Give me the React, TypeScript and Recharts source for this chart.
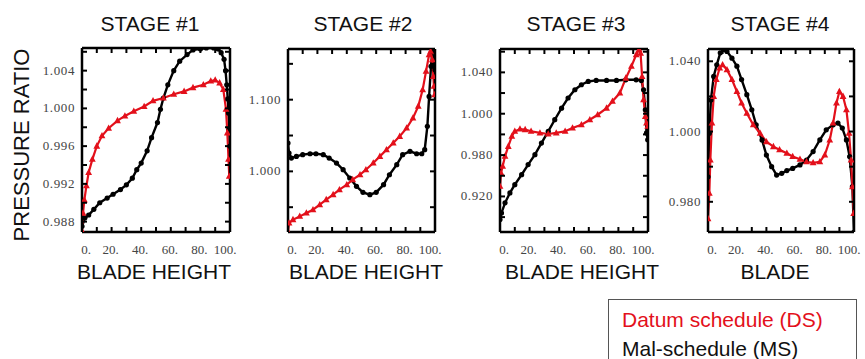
import { LineChart, Line, XAxis, YAxis } from 'recharts';

const RED = '#e3101b';
const SANS = '"Liberation Sans", Arial, sans-serif';
const SERIF = '"Liberation Serif", "Times New Roman", serif';

// blade height (%) vs pressure ratio
const stage1Ms = [[0,0.9875],[2,0.9884],[4.5,0.9887],[8,0.9893],[12,0.99],[17,0.9905],[21,0.9909],[26,0.9914],[30,0.9919],[34,0.9926],[37,0.9935],[40,0.9942],[44,0.9955],[47,0.9969],[51,0.9985],[53,0.9999],[55,1.0011],[58,1.0025],[62,1.004],[66,1.005],[71,1.0057],[75,1.0062],[80,1.0063],[84,1.0064],[89,1.0064],[92,1.0063],[94,1.0059],[96,1.0052],[97,1.004],[97.8,1.0025],[98.5,1.001],[99,0.9995],[99.5,0.9978],[100,0.996]];
const stage1Ds = [[0,0.987],[0.7,0.9889],[1.6,0.9903],[3,0.9918],[4.5,0.9932],[7,0.9946],[10,0.996],[13.5,0.9971],[18,0.9979],[24,0.9987],[29,0.9992],[35,0.9997],[42,1.0002],[48,1.0008],[55,1.0011],[62,1.0015],[69,1.0018],[75,1.0022],[82,1.0025],[87,1.0029],[90,1.003],[93,1.0027],[95.5,1.002],[97.3,0.9999],[98.2,0.9974],[99,0.9946],[99.5,0.9928]];
const stage2Ms = [[0,1.0395],[0.7,1.0256],[2.3,1.0186],[5.7,1.0209],[10,1.0233],[15,1.0246],[19,1.0246],[24,1.0233],[28,1.0186],[33,1.0116],[37.5,1.0023],[42,0.9907],[46.6,0.9791],[51,0.9707],[55.7,0.9675],[60,0.9707],[65,0.9814],[69,0.9953],[74,1.0093],[78,1.0233],[83,1.0279],[87.5,1.0246],[91,1.0246],[93,1.0302],[94.8,1.0628],[96,1.1046],[97.3,1.1465],[98.2,1.1674],[99.3,1.1465],[100,1.1418]];
const stage2Ds = [[0,0.9154],[0.7,0.9279],[3.4,0.9326],[8,0.9372],[12.5,0.9419],[17,0.9465],[21.6,0.9535],[26,0.9605],[30.7,0.9675],[35,0.9744],[40,0.9814],[44,0.9884],[49,0.9953],[53,1.0023],[58,1.0116],[62.5,1.0209],[67,1.0302],[71.6,1.0395],[76,1.0488],[80.7,1.0605],[85,1.0744],[88.6,1.0907],[91.6,1.1139],[93.9,1.1395],[96,1.1628],[97,1.1674],[98.2,1.1558],[98.9,1.1325],[99.3,1.1186],[99.8,1.107]];
const stage3Ms = [[0,0.9488],[1,0.952],[3.4,0.9569],[6.7,0.9617],[10,0.9657],[14.6,0.9705],[19,0.9754],[23.6,0.9802],[28,0.9858],[32.6,0.9915],[37,0.9971],[41.6,1.0027],[46,1.0076],[50.6,1.0116],[55,1.014],[59.6,1.0156],[65,1.0161],[72,1.0161],[78.7,1.0161],[85,1.0164],[92,1.0164],[95.5,1.0161],[97,1.0116],[98.2,1.0019],[99,0.9907],[99.8,0.9874]];
const stage3Ds = [[0,0.9649],[0.7,0.9713],[1.8,0.9746],[3.4,0.9794],[5.6,0.9842],[8,0.9891],[10,0.9915],[13.5,0.9926],[17,0.9923],[21,0.9915],[27,0.9907],[32.6,0.9902],[38,0.9907],[44,0.9915],[49,0.9931],[55,0.9947],[60.7,0.9971],[66,0.9995],[72,1.0027],[76,1.006],[81,1.01],[85,1.0172],[88.8,1.0229],[92,1.0285],[94,1.031],[95,1.0293],[96,1.018],[97,1.0068],[98.2,0.9987],[99,0.9955],[99.8,0.9939]];
const stage4Ms = [[0,0.9871],[0.9,0.9995],[2,1.009],[3.9,1.0157],[6,1.019],[8.4,1.0224],[10.7,1.0233],[13,1.0228],[16.4,1.0209],[19.8,1.0186],[23,1.0148],[26.6,1.0105],[30,1.0062],[33,1.0019],[37,0.9976],[40,0.9933],[43.6,0.99],[47,0.9876],[50.5,0.9881],[54,0.9889],[58,0.9895],[63,0.9905],[67.5,0.9919],[72,0.9943],[76.6,0.9976],[81,1.0005],[85.7,1.0019],[89,1.0024],[92,1.001],[94.8,0.9976],[97,0.9929],[98.9,0.9843],[100,0.9714]];
const stage4Ds = [[0,0.9752],[0.9,0.9824],[1.6,0.9919],[2.7,1.0024],[3.9,1.01],[5.7,1.0148],[8,1.0181],[10,1.019],[13,1.0176],[16.4,1.0148],[19.8,1.0114],[23,1.0081],[26.6,1.0052],[31,1.0019],[35.7,0.9995],[40,0.9971],[44.8,0.9957],[49,0.9948],[54,0.9938],[58,0.9929],[63,0.9921],[67.5,0.9914],[72,0.9911],[76.6,0.9914],[80,0.9933],[83.4,0.9976],[85.7,1.0024],[88,1.0081],[90,1.0114],[92.5,1.01],[94.8,1.0062],[96.6,0.9995],[98,0.9919],[98.9,0.9843],[99.8,0.9767]];

const xTicks = [0, 10, 20, 30, 40, 50, 60, 70, 80, 90, 100];
const xTickLabels: Record<number, string> = { 0: '0.', 20: '20.', 40: '40.', 60: '60.', 80: '80.', 100: '100.' };

const stage1Ticks = [0.988, 0.99, 0.992, 0.994, 0.996, 0.998, 1.0, 1.002, 1.004, 1.006];
const stage1Labels: Record<string, string> = { '0.988': '0.988', '0.992': '0.992', '0.996': '0.996', '1.000': '1.000', '1.004': '1.004' };
const stage2Ticks = [0.95, 1.0, 1.05, 1.1, 1.15];
const stage2Labels: Record<string, string> = { '1.000': '1.000', '1.100': '1.100' };
const stage3Ticks = [0.95, 0.96, 0.97, 0.98, 0.99, 1.0, 1.01, 1.02, 1.03];
const stage3Labels: Record<string, string> = { '0.960': '0.920', '0.980': '0.980', '1.000': '1.000', '1.020': '1.040' };
const stage4Ticks = [0.98, 0.99, 1.0, 1.01, 1.02];
const stage4Labels: Record<string, string> = { '0.980': '0.980', '1.000': '1.000', '1.020': '1.040' };

type Panel = {
  title: string; xTitle: string; left: number; right: number; top: number; bottom: number;
  domain: [number, number]; ticks: number[]; labels: Record<string, string>;
  ms: number[][]; ds: number[][]; titleX: number; xTitleX: number;
};

const panels: Panel[] = [
  { title: 'STAGE #1', xTitle: 'BLADE HEIGHT', left: 82, right: 230, top: 48, bottom: 232, domain: [0.9869, 1.0064], ticks: stage1Ticks, labels: stage1Labels, ms: stage1Ms, ds: stage1Ds, titleX: 150, xTitleX: 154 },
  { title: 'STAGE #2', xTitle: 'BLADE HEIGHT', left: 288, right: 435, top: 49, bottom: 232, domain: [0.9154, 1.1707], ticks: stage2Ticks, labels: stage2Labels, ms: stage2Ms, ds: stage2Ds, titleX: 363, xTitleX: 366 },
  { title: 'STAGE #3', xTitle: 'BLADE HEIGHT', left: 500, right: 648, top: 49, bottom: 232, domain: [0.9428, 1.0313], ticks: stage3Ticks, labels: stage3Labels, ms: stage3Ms, ds: stage3Ds, titleX: 576, xTitleX: 582 },
  { title: 'STAGE #4', xTitle: 'BLADE', left: 708, right: 854, top: 49, bottom: 232, domain: [0.9714, 1.0235], ticks: stage4Ticks, labels: stage4Labels, ms: stage4Ms, ds: stage4Ds, titleX: 780, xTitleX: 775 },
];

const pts = (a: number[][]) => a.map(([x, y]) => ({ x, y }));

const PAD_L = 50;
const TICK = 5;
const tickStroke = { stroke: '#000', strokeWidth: 2 };

// inward tick marks are drawn by the tick renderers themselves
const bottomTick = (p: Panel) => (props: any) => {
  const { x, payload } = props;
  const t = xTickLabels[payload.value];
  const dx = payload.value === 0 ? 4 : payload.value === 100 ? -5 : -1;
  return (
    <g>
      <line x1={x} x2={x} y1={p.bottom} y2={p.bottom - TICK} {...tickStroke} />
      {t && <text x={x + dx} y={p.bottom + 22} textAnchor="middle" fontFamily={SERIF} fontSize={13} fill="#444">{t}</text>}
    </g>
  );
};

const topTick = (p: Panel) => (props: any) => (
  <line x1={props.x} x2={props.x} y1={p.top} y2={p.top + TICK} {...tickStroke} />
);

const leftTick = (p: Panel) => (props: any) => {
  const { y, payload } = props;
  const t = p.labels[Number(payload.value).toFixed(3)];
  return (
    <g>
      <line x1={PAD_L} x2={PAD_L + TICK} y1={y} y2={y} {...tickStroke} />
      {t && <text x={PAD_L - 7} y={y + 4} textAnchor="end" fontFamily={SERIF} fontSize={13} letterSpacing={0.6} fill="#444">{t}</text>}
    </g>
  );
};

const rightTick = (p: Panel) => (props: any) => {
  const xr = PAD_L + p.right - p.left;
  return <line x1={xr} x2={xr - TICK} y1={props.y} y2={props.y} {...tickStroke} />;
};

const renderTri = (p: any) => {
  const { cx, cy, index } = p;
  if (cx == null || cy == null) return <g key={`t${index}`} />;
  return <path key={`t${index}`} d={`M${cx},${cy - 3.8}L${cx + 3.4},${cy + 2.5}L${cx - 3.4},${cy + 2.5}Z`} fill={RED} />;
};

const axisLine = { stroke: '#000', strokeWidth: 2.5 };

function StagePanel({ p }: { p: Panel }) {
  const W = p.right - p.left + 60;
  const H = 290;
  return (
    <div style={{ position: 'absolute', left: p.left - PAD_L, top: 0 }}>
      <LineChart width={W} height={H} margin={{ top: p.top - 1, bottom: H - p.bottom - 1, left: PAD_L - 1, right: 9 }}>
        <XAxis xAxisId="b" dataKey="x" type="number" domain={[0, 100]} ticks={xTicks} interval={0} height={1}
          tickLine={false} axisLine={axisLine} tick={bottomTick(p)} allowDataOverflow />
        <XAxis xAxisId="t" orientation="top" dataKey="x" type="number" domain={[0, 100]} ticks={xTicks} interval={0} height={1}
          tickLine={false} axisLine={axisLine} tick={topTick(p)} allowDataOverflow />
        <YAxis yAxisId="l" type="number" domain={p.domain} ticks={p.ticks} interval={0} width={1}
          tickLine={false} axisLine={axisLine} tick={leftTick(p)} allowDataOverflow />
        <YAxis yAxisId="r" orientation="right" type="number" domain={p.domain} ticks={p.ticks} interval={0} width={1}
          tickLine={false} axisLine={axisLine} tick={rightTick(p)} allowDataOverflow />
        <Line xAxisId="b" yAxisId="l" data={pts(p.ms)} dataKey="y" stroke="#000" strokeWidth={2.4}
          dot={{ r: 2.6, fill: '#000', stroke: '#000', strokeWidth: 0 }} isAnimationActive={false} />
        <Line xAxisId="b" yAxisId="l" data={pts(p.ds)} dataKey="y" stroke={RED} strokeWidth={2.2}
          dot={renderTri} isAnimationActive={false} />
      </LineChart>
    </div>
  );
}

function Label({ text, cx, cy, size = 20, color = '#111' }: { text: string; cx: number; cy: number; size?: number; color?: string }) {
  return (
    <div style={{ position: 'absolute', left: cx - 120, top: cy - size * 0.6, width: 240, textAlign: 'center',
      fontFamily: SANS, fontSize: size, lineHeight: `${size * 1.2}px`, color, whiteSpace: 'nowrap' }}>{text}</div>
  );
}

export default function App() {
  return (
    <div style={{ position: 'absolute', left: 0, top: 0, width: 865, height: 359, background: '#fff', overflow: 'hidden' }}>
      {panels.map((p) => <StagePanel key={p.title} p={p} />)}
      {panels.map((p) => <Label key={`t${p.title}`} text={p.title} cx={p.titleX} cy={24} size={21} />)}
      {panels.map((p) => <Label key={`x${p.title}`} text={p.xTitle} cx={p.xTitleX} cy={272} size={21} />)}
      <div style={{ position: 'absolute', left: 22 - 120, top: 145 - 13, width: 240, textAlign: 'center',
        transform: 'rotate(-90deg)', fontFamily: SANS, fontSize: 22, lineHeight: '26px', color: '#111', whiteSpace: 'nowrap' }}>
        PRESSURE RATIO
      </div>
      <div style={{ position: 'absolute', left: 608, top: 299, width: 249, height: 80, border: '1.5px solid #555',
        boxSizing: 'border-box', paddingTop: 5, paddingLeft: 13, fontFamily: SANS, fontSize: 21, lineHeight: '29px' }}>
        <div style={{ color: RED }}>Datum schedule (DS)</div>
        <div style={{ color: '#111' }}>Mal-schedule (MS)</div>
      </div>
    </div>
  );
}
